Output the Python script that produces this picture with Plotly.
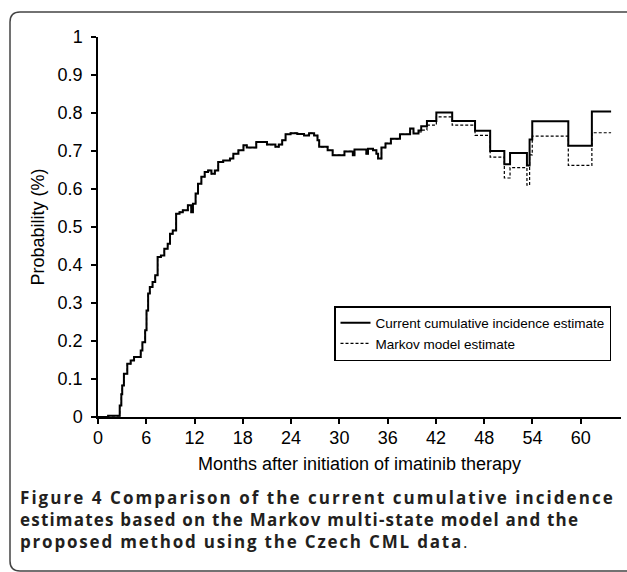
import plotly.graph_objects as go

months = [0, 1.26, 2.7, 2.9, 3.01, 3.22, 3.64, 4.06, 4.48, 5.31, 5.52, 5.86, 6.03, 6.23, 6.44, 6.78,
          7.11, 7.41, 7.82, 8.24, 8.66, 8.95, 9.29, 9.71, 10.13, 10.54, 11.17, 11.59, 11.80, 12.13,
          12.43, 12.85, 13.26, 13.68, 14.10, 14.52, 14.94, 15.56, 16.40, 16.82, 17.45, 18.08, 18.49,
          19.67, 21.00, 22.05, 22.47, 22.89, 23.31, 23.93, 24.77, 25.61, 26.23, 26.86, 27.28, 27.49,
          28.54, 29.16, 30.63, 31.67, 31.88, 33.35, 33.56, 34.18, 34.60, 34.81, 35.23, 35.73, 36.40,
          37.53, 38.79, 39.21, 39.83, 40.17, 40.88, 42.05, 44.02, 46.86, 48.74, 50.50, 51.21, 53.31,
          53.64, 53.97, 58.45, 61.38, 63.77]

current_cif = [0, 0.003, 0.03, 0.06, 0.083, 0.114, 0.14, 0.149, 0.158, 0.175, 0.197, 0.228, 0.28, 0.325,
               0.342, 0.355, 0.373, 0.421, 0.425, 0.443, 0.456, 0.482, 0.491, 0.535, 0.539, 0.544, 0.557,
               0.539, 0.561, 0.588, 0.614, 0.632, 0.645, 0.649, 0.640, 0.649, 0.671, 0.675, 0.680, 0.693,
               0.702, 0.715, 0.709, 0.724, 0.717, 0.711, 0.717, 0.728, 0.744, 0.747, 0.745, 0.741, 0.747,
               0.741, 0.728, 0.711, 0.702, 0.689, 0.699, 0.689, 0.704, 0.693, 0.706, 0.702, 0.693, 0.680,
               0.709, 0.720, 0.732, 0.744, 0.759, 0.746, 0.754, 0.765, 0.779, 0.801, 0.779, 0.753, 0.700,
               0.665, 0.695, 0.662, 0.730, 0.778, 0.714, 0.804, 0.804]

markov = [0, 0.003, 0.03, 0.06, 0.083, 0.114, 0.14, 0.149, 0.158, 0.175, 0.197, 0.228, 0.28, 0.325,
          0.342, 0.355, 0.373, 0.421, 0.425, 0.443, 0.456, 0.482, 0.491, 0.535, 0.539, 0.544, 0.557,
          0.539, 0.561, 0.588, 0.614, 0.632, 0.645, 0.649, 0.640, 0.649, 0.671, 0.675, 0.680, 0.693,
          0.702, 0.715, 0.709, 0.724, 0.717, 0.711, 0.717, 0.728, 0.744, 0.747, 0.745, 0.741, 0.747,
          0.741, 0.728, 0.711, 0.702, 0.689, 0.699, 0.689, 0.704, 0.693, 0.706, 0.702, 0.693, 0.680,
          0.709, 0.720, 0.732, 0.744, 0.759, 0.746, 0.750, 0.755, 0.768, 0.790, 0.768, 0.741, 0.684,
          0.629, 0.656, 0.610, 0.690, 0.739, 0.662, 0.748, 0.748]

x_ticks = [0, 6, 12, 18, 24, 30, 36, 42, 48, 54, 60]
y_ticks = [0, 0.1, 0.2, 0.3, 0.4, 0.5, 0.6, 0.7, 0.8, 0.9, 1]
y_tick_labels = ["0", "0.1", "0.2", "0.3", "0.4", "0.5", "0.6", "0.7", "0.8", "0.9", "1"]

caption_lines = [
    "<b>Figure 4 Comparison of the current cumulative incidence</b>",
    "<b>estimates based on the Markov multi-state model and the</b>",
    "<b>proposed method using the Czech CML data</b>.",
]
caption_tracking = ["2.05px", "1.2px", "1.8px"]

W, H = 627, 572
L, R, T, B = 98, 6, 37, 155
PW, PH = W - L - R, H - T - B


def px(xp):
    return (xp - L) / PW


def py(yp):
    return (H - B - yp) / PH


fig = go.Figure()
fig.add_trace(go.Scatter(x=months, y=markov, mode="lines", line_shape="hv",
                         name="Markov model estimate",
                         line=dict(color="black", width=1.2, dash="3px,2px")))
fig.add_trace(go.Scatter(x=months, y=current_cif, mode="lines", line_shape="hv",
                         name="Current cumulative incidence estimate",
                         line=dict(color="black", width=2)))

axis_font = dict(family="Liberation Sans, Arial", size=18, color="black")

fig.update_layout(
    width=W, height=H,
    margin=dict(l=L, r=R, t=T, b=B),
    paper_bgcolor="white", plot_bgcolor="white",
    showlegend=True,
    legend=dict(x=px(334), y=py(306), xanchor="left", yanchor="top",
                bordercolor="black", borderwidth=1.5, bgcolor="white",
                traceorder="reversed",
                font=dict(family="Liberation Sans, Arial", size=13.5, color="black"),
                itemwidth=30, tracegroupgap=0),
    xaxis=dict(range=[0, 65], tickvals=x_ticks, showgrid=False, zeroline=False,
               showline=True, linecolor="black", linewidth=1.5,
               ticks="outside", ticklen=5, tickwidth=1.5, tickcolor="black",
               tickfont=axis_font, ticklabelstandoff=-1,
               title=dict(text="Months after initiation of imatinib therapy", font=axis_font, standoff=10)),
    yaxis=dict(range=[0, 1], tickvals=y_ticks, ticktext=y_tick_labels, showgrid=False, zeroline=False,
               showline=True, linecolor="black", linewidth=1.5,
               ticks="outside", ticklen=5, tickwidth=1.5, tickcolor="black",
               tickfont=axis_font, ticklabelstandoff=5,
               title=dict(text="Probability (%)", font=axis_font, standoff=8)),
)

# rounded frame around figure
fx0, fy0, fx1, fy1, rr = 10, 12, 660, 571, 10
path = (f"M {px(fx0)},{py(fy0 + rr)} Q {px(fx0)},{py(fy0)} {px(fx0 + rr)},{py(fy0)} "
        f"L {px(fx1)},{py(fy0)} L {px(fx1)},{py(fy1)} L {px(fx0 + rr)},{py(fy1)} "
        f"Q {px(fx0)},{py(fy1)} {px(fx0)},{py(fy1 - rr)} Z")
fig.add_shape(type="path", path=path, xref="paper", yref="paper",
              line=dict(color="#444444", width=1.5), layer="below")

caption_html = "<br>".join(f'<span style="letter-spacing:{ls}">{ln}</span>'
                           for ln, ls in zip(caption_lines, caption_tracking))
fig.add_annotation(text=caption_html, xref="paper", yref="paper",
                   x=px(18), y=py(484), xanchor="left", yanchor="top", showarrow=False, align="left",
                   font=dict(family="Open Sans", size=17, color="#231f20"))

fig.write_html("out.html", config={"displayModeBar": False},
               post_script="document.body.style.margin='0px';document.body.style.overflow='hidden';")
